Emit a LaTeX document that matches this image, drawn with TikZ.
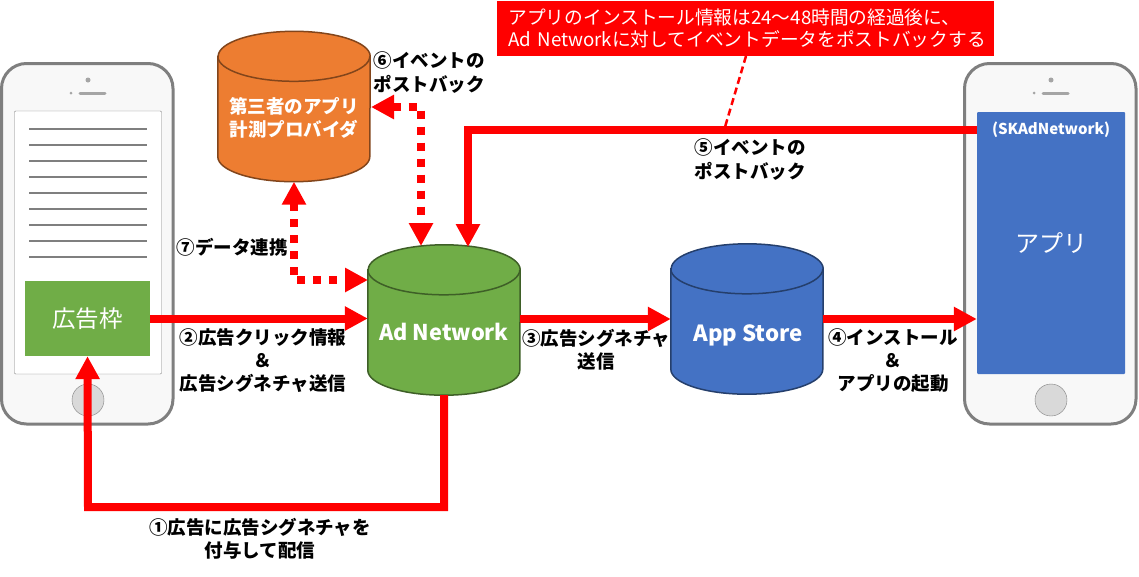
\documentclass[tikz,border=0pt]{standalone}
\usepackage{fontspec}
\setmainfont{Noto Sans CJK JP}
\usetikzlibrary{arrows.meta}
\definecolor{phoneline}{HTML}{7F7F7F}
\definecolor{phonefill}{HTML}{F8F8F8}
\definecolor{homefill}{HTML}{D9D9D9}
\definecolor{slotgreen}{HTML}{70AD47}
\definecolor{appblue}{HTML}{4472C4}
\definecolor{provorange}{HTML}{ED7D31}
\tikzset{
  phone/.pic={
    \draw[phoneline,line width=3pt,fill=phonefill,rounded corners=25pt] (1.5,63.5) rectangle (173,424);
    \fill[phoneline] (0,111) rectangle (2,133) (0,145) rectangle (2,168);
    \fill[phoneline!70] (88,80) circle (2.5) (71,93) circle (1.5);
    \draw[phoneline!70,line width=3pt,line cap=round] (80,93) -- (105,93);
    \draw[gray,fill=homefill] (88,400) circle (16);
  },
  dbcan/.style={draw=#1!55!black,fill=#1,line width=1.5pt},
  dbbox/.style={minimum width=152pt,minimum height=150pt,inner sep=0pt},
  lbl/.style={align=center,font=\fontsize{18.5}{23}\selectfont\bfseries,inner sep=0pt},
  wlbl/.style={align=center,text=white,inner sep=0pt},
  flow/.style={draw=red,line width=8pt,-{Triangle[length=23pt,width=23pt]}},
  dotflow/.style={draw=red,line width=8pt,dash pattern=on 8pt off 8pt,
    {Triangle[length=23pt,width=23pt]}-{Triangle[length=23pt,width=23pt]}},
}
\newcommand{\dbnode}[3]{
  \node[dbbox] (#1) at (#2) {};
  \draw[dbcan=#3] ([yshift=-25pt]#1.north west) -- ([yshift=25pt]#1.south west)
    arc[start angle=180,end angle=360,x radius=76pt,y radius=25pt]
    -- ([yshift=-25pt]#1.north east)
    arc[start angle=0,end angle=180,x radius=76pt,y radius=25pt] -- cycle;
  \draw[dbcan=#3,fill=none] ([yshift=-25pt]#1.north west)
    arc[start angle=180,end angle=360,x radius=76pt,y radius=25pt];
}
\begin{document}
\begin{tikzpicture}[x=1pt,y=-1pt,>=Triangle]
  \useasboundingbox (0,0) rectangle (1139,576);
  \pic at (0,0) {phone};
  \pic at (963,0) {phone};
  \node[draw=gray,fill=white,rounded corners=1pt,minimum width=147pt,minimum height=263pt,inner sep=0pt] (page) at (88,242.5) {};
  \foreach \y in {129,145,...,257}
    \draw[phoneline,line width=1.5pt] (29,\y) -- (147,\y);
  \node[fill=slotgreen,wlbl,minimum width=125pt,minimum height=75pt,font=\fontsize{23.5}{28}\selectfont] (slot) at (87.5,318.5) {広告枠};
  \node[fill=appblue,rounded corners=1pt,wlbl,minimum width=148pt,minimum height=262pt,font=\fontsize{24}{28}\selectfont] (app) at (1051,243) {アプリ};
  \node[wlbl,font=\fontsize{15}{18}\selectfont\bfseries] (sk) at (1051,130) {(SKAdNetwork)};
  \dbnode{prov}{294,106.5}{provorange}
  \dbnode{netw}{444,320}{slotgreen}
  \dbnode{store}{747,319}{appblue}
  \node[wlbl,font=\fontsize{18.5}{23}\selectfont\bfseries] (provtext) at (294,118) {第三者のアプリ\\計測プロバイダ};
  \node[wlbl,font=\fontsize{21.7}{24}\selectfont\bfseries] (netwtext) at (444,332) {Ad Network};
  \node[wlbl,font=\fontsize{22.2}{24}\selectfont\bfseries] (storetext) at (748,335) {App Store};
  \node[fill=red,text=white,align=left,inner sep=0pt,minimum width=497pt,minimum height=55pt,
    font=\fontsize{18.7}{22.5}\selectfont,text width=474pt] (note) at (745.5,28.5) {アプリのインストール情報は24〜48時間の経過後に、\\Ad Networkに対してイベントデータをポストバックする};
  \coordinate (backbend) at (88,507);
  \coordinate (apppost) at (977,130);
  \coordinate (netpost) at (468,247);
  \coordinate (netdot) at (421,246);
  \coordinate (provdot) at (371,107);
  \coordinate (netdata) at (368,280);
  \coordinate (notefoot) at (746,56);
  \coordinate (noteend) at (725,127);
  \draw[flow] (slot.east) -- (netw.west |- slot.east);
  \draw[flow] (netw.east |- store.west) -- (store.west);
  \draw[flow] (store.east) -- (app.west |- store.east);
  \draw[flow] (netw.south) |- (backbend) -- (slot.south);
  \draw[flow] (apppost) -| (netpost);
  \draw[dotflow] (provdot) -| (netdot);
  \draw[dotflow] (prov.south) |- (netdata);
  \draw[red,line width=2.5pt,dash pattern=on 7pt off 4pt] (notefoot) -- (noteend);
  \node[lbl] (l1) at (260,539) {①広告に広告シグネチャを\\付与して配信};
  \node[lbl] (l2) at (263,361) {②広告クリック情報\\＆\\広告シグネチャ送信};
  \node[lbl] (l3) at (596,350) {③広告シグネチャ\\送信};
  \node[lbl] (l4) at (893,361) {④インストール\\＆\\アプリの起動};
  \node[lbl,font=\fontsize{18.5}{24}\selectfont\bfseries] (l5) at (750,160) {⑤イベントの\\ポストバック};
  \node[lbl,align=left,font=\fontsize{18.5}{24}\selectfont\bfseries] (l6) at (429,72.5) {⑥イベントの\\ポストバック};
  \node[lbl] (l7) at (232,247) {⑦データ連携};
\end{tikzpicture}
\end{document}
